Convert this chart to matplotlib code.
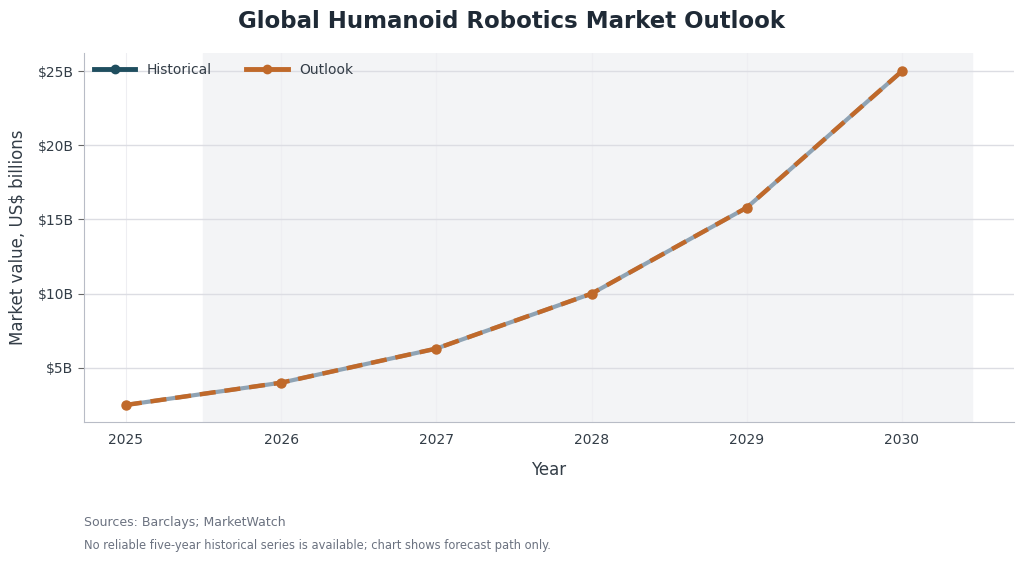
import numpy as np
import matplotlib.pyplot as plt
from matplotlib.lines import Line2D

years = [2025, 2026, 2027, 2028, 2029, 2030]
values = [2.5, 4.0, 6.3, 10.0, 15.8, 25.0]
hist_years = []
hist_values = []
yticks = [5, 10, 15, 20, 25]

fig = plt.figure(figsize=(10.24, 5.61), dpi=100)
ax = fig.add_axes([0.082, 0.248, 0.908, 0.657])

ax.axvspan(2025.5, 2030.45, color='#f3f4f6', zorder=0)
ax.plot(hist_years, hist_values, color='#1f4e5f', lw=3.5, marker='o', ms=6)
ax.plot(years, values, color='#8fa3b4', lw=3.0, zorder=2)
ax.plot(years, values, color='#c0692a', lw=3.2, ls=(0, (3.6, 2.0)), marker='o', ms=6.5, zorder=3)

ax.set_xlim(2024.73, 2030.72)
ax.set_ylim(1.36, 26.2)
ax.set_xticks(years)
ax.set_yticks(yticks)
ax.set_yticklabels(['$%dB' % v for v in yticks])
ax.grid(axis='y', color='#dcdde3', lw=1)
ax.grid(axis='x', color='#eeeef2', lw=0.8)
ax.set_axisbelow(True)
for s in ['top', 'right']:
    ax.spines[s].set_visible(False)
for s in ['left', 'bottom']:
    ax.spines[s].set_color('#b8bcc6')
ax.tick_params(colors='#333d47', labelsize=10, length=4)
ax.tick_params(axis='x', length=0, pad=8)
ax.tick_params(axis='y', color='#666')

ax.set_xlabel('Year', fontsize=12, color='#333d47', labelpad=10)
ax.set_ylabel('Market value, US$ billions', fontsize=12, color='#333d47', labelpad=8)
fig.suptitle('Global Humanoid Robotics Market Outlook', fontsize=16.5, fontweight='bold',
             color='#1f2a36', y=0.983)

handles = [Line2D([], [], color='#1f4e5f', lw=3.5, marker='o', ms=6),
           Line2D([], [], color='#c0692a', lw=3.5, marker='o', ms=6)]
ax.legend(handles, ['Historical', 'Outlook'], loc='upper left', ncol=2, frameon=False,
          fontsize=10, handlelength=3, borderaxespad=0.3, columnspacing=2.5,
          labelcolor='#333d47')

fig.text(0.082, 0.062, 'Sources: Barclays; MarketWatch', fontsize=9, color='#6b7280')
fig.text(0.082, 0.022, 'No reliable five-year historical series is available; chart shows forecast path only.',
         fontsize=8.3, color='#6b7280')

fig.savefig('out.png', dpi=100)
